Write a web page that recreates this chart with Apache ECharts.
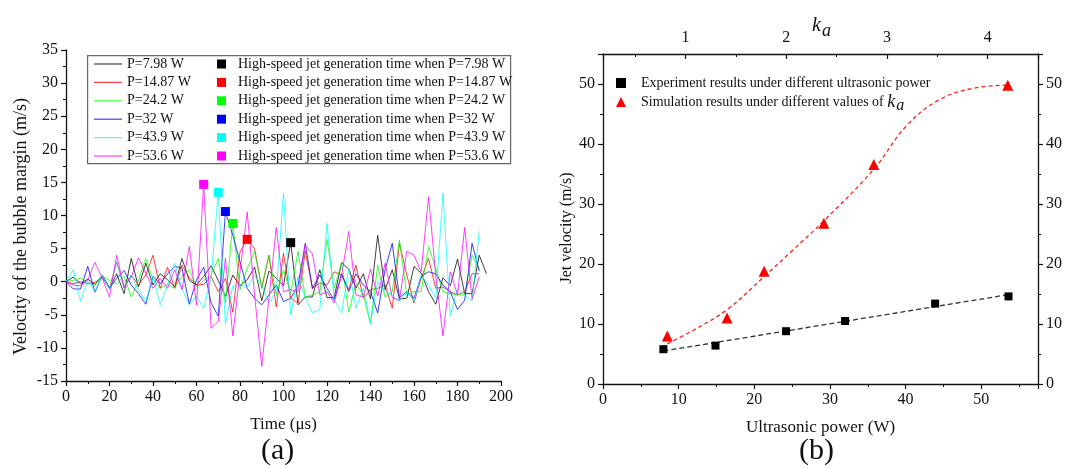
<!DOCTYPE html>
<html>
<head>
<meta charset="utf-8">
<script src="https://cdn.jsdelivr.net/npm/echarts@6.0.0/dist/echarts.min.js"></script>
<style>
  html, body { margin: 0; padding: 0; background: #fff; }
  #chart { width: 1077px; height: 468px; }
</style>
</head>
<body>
<div id="chart"></div>
<script>
// (a) sample times, us
const timeUs = [0, 3.3, 6.7, 10, 13.3, 16.7, 20, 23.3, 26.7, 30, 33.3, 36.7, 40, 43.3, 46.7, 50,
  53.3, 56.7, 60, 63.3, 66.7, 70, 73.3, 76.7, 80, 83.3, 86.7, 90, 93.3, 96.7, 100, 103.3, 106.7,
  110, 113.3, 116.7, 120, 123.3, 126.7, 130, 133.3, 136.7, 140, 143.3, 146.7, 150, 153.3, 156.7,
  160, 163.3, 166.7, 170, 173.3, 176.7, 180, 183.3, 186.7, 190, 193.3];

const vP798 = [0, 0.7, -0.3, 0.4, -0.4, 0.9, -1.0, 1.2, -1.8, 3.5,
  -0.8, 2.8, -0.5, 1.2, 0.3, -0.8, 3.5, 0.2, -0.5, 0.8,
  2.4, 0.2, -2.2, 1.0, -0.6, 0.3, 2.2, -2.9, 1.6, 0.5,
  -0.6, 5.9, -3.5, -2.3, -2.3, 1.8, -2.4, -2.4, 2.9, 1.9,
  -1.0, 1.2, -2.6, 7.0, -1.2, 1.8, -2.6, -2.5, 2.3, 1.3,
  -1.5, -3.4, 0.6, -0.6, 3.4, -1.8, -1.8, 4.0, 1.2];
const vP1487 = [0, -0.3, 0.0, -0.3, -0.1, 0.6, -1.0, 3.0, -0.8, 1.0,
  -0.5, 1.0, 4.0, -1.0, 2.2, -1.0, 2.5, 0.6, -0.5, -0.4,
  0.8, -1.5, 0.5, -4.6, 4.5, 6.4, 5.0, -1.0, 4.0, -3.8,
  4.3, -2.5, -3.2, 4.6, -1.0, -0.2, -0.5, 1.5, 1.0, -1.2,
  2.5, -2.5, -1.2, -1.0, -0.5, -4.0, 5.8, 1.0, -3.2, 0.5,
  3.5, -1.0, -0.8, -1.5, -2.0, -1.5, 1.2, 1.2];
const vP242 = [0, 0.2, 0.6, -0.2, -0.5, 0.8, 0.2, -0.3, 0.8, -2.3,
  0.2, 3.5, 0.3, -1.0, -0.4, -1.0, 0.9, 1.8, -0.8, 0.2,
  1.0, 3.5, -3.2, 8.8, -1.2, 2.0, 4.6, -0.8, 4.0, -2.0,
  1.8, -1.8, 4.6, -2.3, -2.0, -1.5, 6.4, -1.0, 2.9, -4.6,
  -0.3, -2.0, -6.4, 2.5, -2.3, -1.5, 6.3, -2.0, -1.5, -1.5,
  5.3, 2.0, -1.5, -1.8, -2.0, -2.0, 4.0, 1.8];
const vP32 = [0, -1.1, -1.1, 2.3, -1.6, 1.0, -1.0, 0.5, 1.7, -0.5,
  -1.8, -3.4, 0.8, -0.3, 1.2, 2.3, 2.1, -3.4, 0.3, 2.2,
  -3.2, -5.2, 10.6, 7.0, 3.0, -1.0, -2.5, -3.5, -2.0, -0.5,
  -3.0, -2.5, -0.5, 5.8, -1.0, 1.0, -1.0, -2.8, 1.2, -1.5,
  1.2, -0.5, -1.5, -4.7, 1.8, 5.8, -2.4, -1.5, -2.5, 0.8,
  1.5, 1.2, -0.5, -1.5, -4.2, -2.8, 5.8, 1.6];
const vP439 = [0, 1.8, -2.9, 0.2, -1.5, 1.0, -1.2, 2.9, -1.0, 1.0,
  -1.3, -2.9, 0.8, -3.5, -0.5, 2.8, -1.0, -3.5, -2.2, -4.0,
  0.5, 13.5, -6.4, -0.6, -0.4, -0.9, 1.0, -0.6, -3.2, -1.5,
  13.4, -5.0, 0.8, -2.4, -4.7, -4.2, 8.8, -2.7, -4.7, 1.9,
  -4.0, -1.0, -6.2, 0.0, -1.5, -2.0, -3.0, -1.5, -3.0, 1.0,
  -0.5, -2.5, 13.4, -5.2, -1.0, -2.0, -2.9, 7.6];
const vP536 = [0, -0.5, -0.6, 0.3, 2.9, 0.5, -2.3, 4.0, -0.9, 0.7,
  3.6, 1.3, -1.0, 0.5, -1.0, 1.8, -1.2, 5.3, -3.5, 14.7,
  -7.0, -6.0, 3.5, -8.2, 1.5, 10.5, -2.0, -12.8, -2.5, 8.2,
  -1.5, -1.2, -1.5, 5.5, 4.2, -2.0, -1.5, -3.2, 0.9, 7.6,
  -2.0, -2.3, 1.9, -2.2, 2.8, -2.4, -2.8, 4.6, 4.0, 1.5,
  12.8, 1.0, -8.2, 1.5, -2.0, 8.2, -2.6, 0.7];

const powerLabels = ['7.98', '14.87', '24.2', '32', '43.9', '53.6'];
const lineColors = ['#000000', '#ff0000', '#00ff00', '#0000ff', '#00ffff', '#ff00ff'];
const velocitySets = [vP798, vP1487, vP242, vP32, vP439, vP536];
// jet generation moments (time, velocity)
const jetTime = [103.3, 83.3, 76.7, 73.3, 70, 63.3];
const jetVel = [5.9, 6.4, 8.8, 10.6, 13.5, 14.7];

// (b)
const expPower = [7.98, 14.87, 24.2, 32, 43.9, 53.6];
const expVel = [5.8, 6.4, 8.8, 10.5, 13.4, 14.6];
const simPower = [8.5, 16.4, 21.3, 29.2, 35.8, 53.5];
const simVel = [8.0, 11.0, 18.8, 26.8, 36.6, 49.8];
const expFitX = [8, 53.6];
const expFitY = [5.5, 14.9];
const simFitX = [8.5, 12, 16.4, 21.3, 25, 29.2, 35.8, 40.1, 44.5, 49, 53.6];
const simFitY = [6.7, 9.0, 12.4, 17.9, 22.2, 27.2, 35.8, 43.0, 47.4, 49.3, 49.8];

const FONT = 'Liberation Serif';
const ink = '#111';

const zip = function (xs, ys) {
  return ys.map(function (y, i) { return [xs[i], y]; });
};

const tickLabel = function (extra) {
  return Object.assign({ color: ink, fontFamily: FONT, fontSize: 16, margin: 8 }, extra || {});
};

const axisBase = function (extra) {
  const base = {
    type: 'value',
    splitLine: { show: false },
    axisLine: { show: true, onZero: false, lineStyle: { color: ink, width: 1.3 } },
    axisTick: { show: true, length: 5, lineStyle: { color: ink, width: 1.2 } },
    minorTick: { show: true, splitNumber: 2, length: 3, lineStyle: { color: ink, width: 1 } },
    axisLabel: tickLabel(),
    nameTextStyle: { color: ink, fontFamily: FONT, fontSize: 17 },
  };
  return Object.assign(base, extra);
};

const lineNames = powerLabels.map(function (p) { return 'P=' + p + ' W'; });
const jetNames = powerLabels.map(function (p) { return 'High-speed jet generation time when P=' + p + ' W'; });

const series = [];
velocitySets.forEach(function (vals, k) {
  series.push({
    name: lineNames[k],
    type: 'line',
    xAxisIndex: 0,
    yAxisIndex: 0,
    symbol: 'none',
    data: zip(timeUs, vals),
    lineStyle: { color: lineColors[k], width: 1, opacity: 0.75 },
    itemStyle: { color: lineColors[k], opacity: 0.75 },
    z: 2,
  });
});
jetTime.forEach(function (t, k) {
  series.push({
    name: jetNames[k],
    type: 'scatter',
    xAxisIndex: 0,
    yAxisIndex: 0,
    symbol: 'rect',
    symbolSize: 9,
    data: [[t, jetVel[k]]],
    itemStyle: { color: lineColors[k], opacity: 1 },
    z: 5,
  });
});

const expName = 'Experiment results under different ultrasonic power';
const simName = 'Simulation results under different values of ka';

series.push({
  type: 'line', xAxisIndex: 1, yAxisIndex: 1, symbol: 'none',
  data: zip(expFitX, expFitY),
  lineStyle: { color: '#333', width: 1.3, type: [5, 3] },
});
series.push({
  type: 'line', xAxisIndex: 1, yAxisIndex: 1, symbol: 'none', smooth: 0.4,
  data: zip(simFitX, simFitY),
  lineStyle: { color: '#ff2020', width: 1.3, type: [4, 3] },
});
series.push({
  name: expName, type: 'scatter', xAxisIndex: 1, yAxisIndex: 1,
  symbol: 'rect', symbolSize: 8,
  data: zip(expPower, expVel),
  itemStyle: { color: '#000', opacity: 1 }, z: 5,
});
series.push({
  name: simName, type: 'scatter', xAxisIndex: 1, yAxisIndex: 1,
  symbol: 'triangle', symbolSize: 11,
  data: zip(simPower, simVel),
  itemStyle: { color: '#ff0000', opacity: 1 }, z: 5,
});

const legendText = { color: ink, fontFamily: FONT, fontSize: 14 };
const kaRich = {
  k: { fontFamily: FONT, fontStyle: 'italic', fontSize: 20, fill: ink, color: ink },
  s: { fontFamily: FONT, fontStyle: 'italic', fontSize: 18, fill: ink, color: ink, padding: [10, 0, 0, 1] },
};

const option = {
  animation: false,
  backgroundColor: '#fff',
  grid: [
    { left: 66, top: 50, right: 576, bottom: 87, outerBoundsMode: 'none' },
    { left: 603, top: 54, right: 39, bottom: 84, outerBoundsMode: 'none' },
  ],
  xAxis: [
    axisBase({
      gridIndex: 0, min: 0, max: 200, interval: 20,
      name: 'Time (\u03bcs)', nameLocation: 'middle', nameGap: 35,
    }),
    axisBase({
      gridIndex: 1, min: 0, max: 57.5, interval: 10, position: 'bottom',
      axisLabel: tickLabel({ showMaxLabel: false }),
      name: 'Ultrasonic power (W)', nameLocation: 'middle', nameGap: 35,
    }),
    axisBase({
      gridIndex: 1, min: 0.18, max: 4.5, splitNumber: 4, position: 'top',
      axisTick: { show: true, inside: true, length: 5, lineStyle: { color: ink, width: 1.2 } },
      minorTick: { show: true, inside: true, splitNumber: 2, length: 3, lineStyle: { color: ink } },
      axisLabel: tickLabel({ margin: 8, showMinLabel: false, showMaxLabel: false }),
    }),
  ],
  yAxis: [
    axisBase({
      gridIndex: 0, min: -15, max: 35, interval: 5,
      name: 'Velocity of the bubble margin (m/s)', nameLocation: 'middle', nameGap: 36,
      nameTextStyle: { color: ink, fontFamily: FONT, fontSize: 18, padding: [0, 22, 0, 0] },
    }),
    axisBase({
      gridIndex: 1, min: 0, max: 55, interval: 10,
      axisLabel: tickLabel({ showMaxLabel: false }),
      name: 'Jet velocity (m/s)', nameLocation: 'middle', nameGap: 27,
      nameTextStyle: { color: ink, fontFamily: FONT, fontSize: 16, padding: [0, 18, 0, 0] },
    }),
    axisBase({
      gridIndex: 1, min: 0, max: 55, interval: 10, position: 'right',
      axisLabel: tickLabel({ showMaxLabel: false }),
    }),
  ],
  legend: [
    {
      orient: 'vertical', left: 89, top: 52, itemWidth: 28, itemHeight: 1.2, itemGap: 4.4,
      data: lineNames.map(function (n) { return { name: n, icon: 'rect' }; }),
      textStyle: legendText, selectedMode: false,
    },
    {
      orient: 'vertical', left: 212, top: 52, itemWidth: 9, itemHeight: 9, itemGap: 4.4,
      data: jetNames.map(function (n) { return { name: n, icon: 'rect' }; }),
      textStyle: Object.assign({ padding: [0, 0, 0, 7] }, legendText), selectedMode: false,
    },
    {
      orient: 'vertical', left: 611, top: 71, itemWidth: 10, itemHeight: 10, itemGap: 3,
      data: [{ name: expName, icon: 'rect' }, { name: simName, icon: 'triangle' }],
      formatter: function (name) {
        return name === simName ? '{n|Simulation results under different values of }{k|k}{s|a}' : name;
      },
      textStyle: Object.assign({
        padding: [0, 0, 0, 10],
        rich: {
          n: { fontFamily: FONT, fontSize: 14, color: ink },
          k: { fontFamily: FONT, fontSize: 18, fontStyle: 'italic', color: ink },
          s: { fontFamily: FONT, fontSize: 16, fontStyle: 'italic', color: ink, padding: [8, 0, 0, 1] },
        },
      }, legendText),
      selectedMode: false,
    },
  ],
  graphic: [
    {
      type: 'rect', left: 87, top: 55, z: 0,
      shape: { width: 423, height: 108 },
      style: { fill: '#fff', stroke: '#666', lineWidth: 1.2 },
    },
    {
      type: 'text', left: 812, top: 16,
      style: { text: '{k|k}{s|a}', rich: kaRich, fill: ink },
    },
    {
      type: 'text', left: 261, top: 436,
      style: { text: '(a)', fontFamily: FONT, fontSize: 30, fill: ink },
    },
    {
      type: 'text', left: 799, top: 436,
      style: { text: '(b)', fontFamily: FONT, fontSize: 30, fill: ink },
    },
  ],
  series: series,
};

const chartDom = document.getElementById('chart');
const mychart = echarts.init(chartDom);
mychart.setOption(option);
</script>
</body>
</html>
